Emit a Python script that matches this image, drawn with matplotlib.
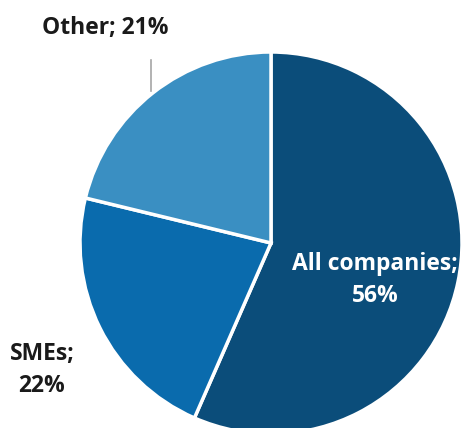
import matplotlib.pyplot as plt

labels = ['All companies', 'SMEs', 'Other']
shares = [56, 22, 21]
colors = ['#0b4d7a', '#0a6bad', '#3a8fc2']

plt.rcParams['font.family'] = ['Open Sans', 'DejaVu Sans']

fig = plt.figure(figsize=(4.62, 4.28), dpi=100)
ax = fig.add_axes([0, 0, 1, 1])

wedges, _ = ax.pie(shares, colors=colors, startangle=90, counterclock=False,
                   center=(271, 185), radius=191, frame=True,
                   wedgeprops=dict(edgecolor='white', linewidth=2.5))
ax.set_xlim(0, 462)
ax.set_ylim(0, 428)
ax.set_aspect('equal')
ax.axis('off')

fs = 16.5
ax.text(375, 148, '%s;\n%d%%' % (labels[0], shares[0]), color='white',
        fontsize=fs, fontweight='bold', ha='center', va='center', linespacing=1.4)
ax.text(42, 58, '%s;\n%d%%' % (labels[1], shares[1]), color='#1a1a1a',
        fontsize=fs, fontweight='bold', ha='center', va='center', linespacing=1.4)
ax.text(105, 400, '%s; %d%%' % (labels[2], shares[2]), color='#1a1a1a',
        fontsize=fs, fontweight='bold', ha='center', va='center')
ax.plot([151, 151], [337, 368], color='#a6a6a6', linewidth=1.2)

fig.savefig('out.png', dpi=100)
